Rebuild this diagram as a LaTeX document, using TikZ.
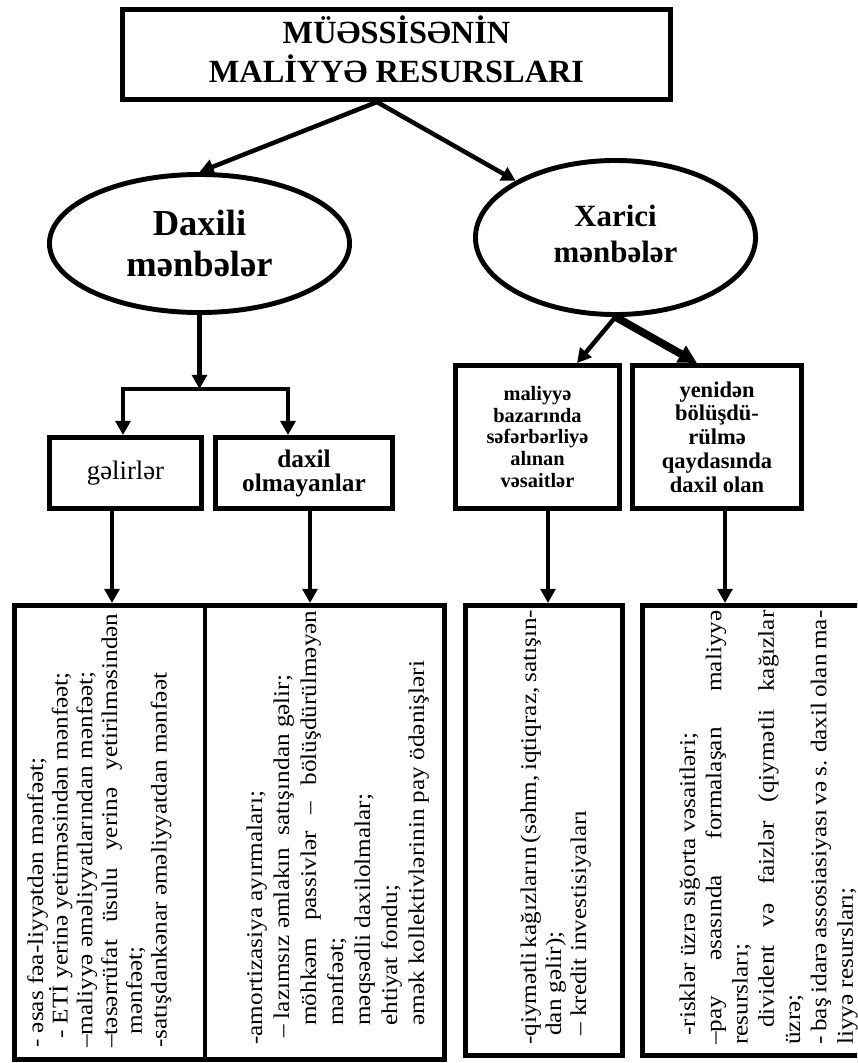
\documentclass[tikz,border=0pt]{standalone}
\usepackage{fontspec}
\setmainfont{Liberation Serif}
\newfontfamily\wideSerif[FakeStretch=1.12]{Liberation Serif}
\usetikzlibrary{arrows.meta,shapes.geometric}

\begin{document}
\begin{tikzpicture}[x=0.025cm, y=-0.025cm,
    box/.style={draw, rectangle, line width=3.5pt, inner sep=0pt, align=center},
    oval/.style={draw, ellipse, line width=3.5pt, inner sep=0pt, align=center},
    arr/.style={line width=3.2pt, -{Triangle[length=10pt,width=10.5pt]}},
    lowText/.style={rotate=90, anchor=base west, inner sep=0pt, text width=10.85cm,
        align=justify, font={\wideSerif\fontsize{16}{#1}\selectfont}}]

    % page, one unit = one pixel of the reference
    \useasboundingbox (0,0) rectangle (857,1063);
    \clip (0,0) rectangle (857,1063);

    %%% head %%%
    \node[box, minimum width=13.7cm, minimum height=2.25cm,
        font=\bfseries\fontsize{23}{25}\selectfont] (title) at (396.5,54.5)
        {\raisebox{-3pt}{\begin{tabular}{@{}c@{}}MÜƏSSİSƏNİN\\MALİYYƏ RESURSLARI\end{tabular}}};
    \coordinate (fork) at (377,102);

    %%% sources %%%
    \node[oval, minimum width=7.5cm, minimum height=3.45cm,
        font=\bfseries\fontsize{26}{28.5}\selectfont] (daxili) at (199.5,243.5) {Daxili\\mənbələr};
    \node[oval, minimum width=7cm, minimum height=3.85cm,
        font=\bfseries\fontsize{22}{25.6}\selectfont] (xarici) at (615.5,237.5)
        {\raisebox{3.5pt}{\begin{tabular}{@{}c@{}}Xarici\\mənbələr\end{tabular}}};

    %%% middle boxes %%%
    \node[box, minimum width=3.8cm, minimum height=1.775cm,
        font=\fontsize{19}{21}\selectfont] (gelir) at (125.5,473) {gəlirlər};
    \node[box, minimum width=4.425cm, minimum height=1.775cm,
        font=\bfseries\fontsize{18}{17}\selectfont] (daxilOlm) at (304,473) {daxil\\olmayanlar};
    \node[box, minimum width=4.1cm, minimum height=3.575cm,
        font=\bfseries\fontsize{14.5}{15.3}\selectfont] (bazar) at (537.5,437)
        {maliyyə\\bazarında\\səfərbərliyə\\alınan\\vəsaitlər};
    \node[box, minimum width=4.225cm, minimum height=3.575cm,
        font=\bfseries\fontsize{16}{16.9}\selectfont] (yeniden) at (717,437)
        {yenidən\\bölüşdü-\\rülmə\\qaydasında\\daxil olan};

    %%% lower boxes %%%
    \node[box, minimum width=4.7625cm, minimum height=11.35cm] (low1) at (109.75,832.5) {};
    \node[box, minimum width=5.9875cm, minimum height=11.35cm] (low2) at (324.75,832.5) {};
    \node[box, minimum width=3.925cm, minimum height=11.25cm] (low3) at (544,830.5) {};
    \node[box, minimum width=5.8125cm, minimum height=11.25cm] (low4) at (758.75,830.5) {};

    % rotated texts, read from bottom to top
    \node[lowText=17.6] (low1Text) at (43,1048)
        {- əsas fəa-liyyətdən mənfəət;\newline
        \hspace*{0.4em}- ETİ yerinə yetirməsindən mənfəət;\newline
        –maliyyə əməliyyatlarından mənfəət;\newline
        –təsərrüfat üsulu yerinə yetirilməsindən\linebreak
        \hspace*{0.6em}mənfəət;\newline
        -satışdankənar əməliyyatdan mənfəət};
    \node[lowText=19.2] (low2Text) at (262,1045)
        {-amortizasiya ayırmaları;\newline
        \hspace*{0.3em}– lazımsız əmlakın\ \ satışından gəlir;\newline
        \hspace*{0.85em}möhkəm passivlər – bölüşdürülməyən\linebreak
        \hspace*{0.85em}mənfəət;\newline
        \hspace*{0.85em}məqsədli daxilolmalar;\newline
        \hspace*{0.85em}ehtiyat fondu;\newline
        \hspace*{0.85em}əmək kollektivlərinin pay ödənişləri};
    \node[lowText=17.8] (low3Text) at (536,1045)
        {\makebox[\linewidth][s]{-qiymətli kağızların (səhm, iqtiqraz, satışın-}\newline
        \hspace*{0.4em}dan gəlir);\newline
        \hspace*{0.4em}– kredit investisiyaları};
    \node[lowText=18.7] (low4Text) at (695,1045)
        {\hspace*{0.4em}-risklər üzrə sığorta vəsaitləri;\newline
        –pay əsasında formalaşan maliyyə\linebreak
        resursları;\newline
        \hspace*{0.75em}divident və faizlər (qiymətli kağızlar\linebreak
        üzrə;\newline
        - baş idarə assosiasiyası və s. daxil olan ma-\linebreak
        liyyə resursları;};

    %%% connectors %%%
    \coordinate (brl) at (123,389);
    \coordinate (brr) at (288,389);
    \draw[arr] (fork) -- (daxili.north);
    \draw[arr] (fork) -- (xarici);
    \draw[arr] (daxili.south) -- (daxili.south |- brl);
    \draw[line width=3.2pt, {Triangle[length=10pt,width=10.5pt]}-{Triangle[length=10pt,width=10.5pt]}]
        (brl |- gelir.north) -- (brl) -- (brr) -- (brr |- daxilOlm.north);
    \draw[arr] (xarici.south) -- ([xshift=0.9875cm]bazar.north);
    \draw[arr, line width=5.5pt, -{Triangle[length=13pt,width=13pt]}]
        (xarici.south) -- ([xshift=-0.5cm]yeniden.north);

    % down to the lists
    \draw[arr] ([xshift=-0.3375cm]gelir.south) -- ([xshift=-0.3375cm]gelir.south |- low1.north);
    \draw[arr] ([xshift=0.15cm]daxilOlm.south) -- ([xshift=0.15cm]daxilOlm.south |- low2.north);
    \draw[arr] ([xshift=0.2625cm]bazar.south) -- ([xshift=0.2625cm]bazar.south |- low3.north);
    \draw[arr] ([xshift=0.2cm]yeniden.south) -- ([xshift=0.2cm]yeniden.south |- low4.north);
\end{tikzpicture}
\end{document}
